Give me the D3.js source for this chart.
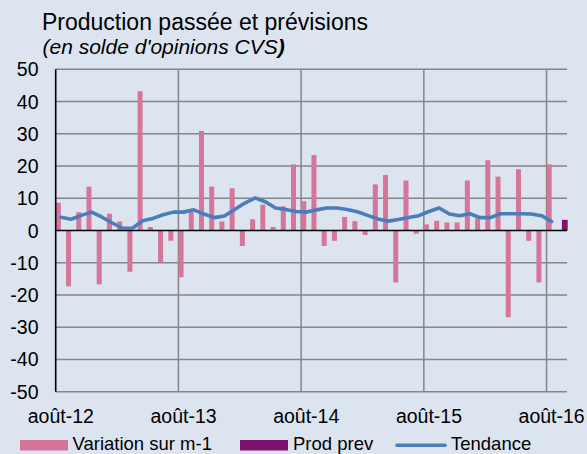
<!DOCTYPE html>
<html><head><meta charset="utf-8">
<script src="https://cdn.jsdelivr.net/npm/d3@7"></script>
<style>
html,body{margin:0;padding:0;background:#dce4f0;}
svg{display:block;font-family:"Liberation Sans",Arial,sans-serif;}
</style></head>
<body>
<svg id="chart" width="587" height="454"></svg>
<script>
const months = ["août-12","sept-12","oct-12","nov-12","déc-12","janv-13","févr-13","mars-13","avr-13","mai-13","juin-13","juil-13",
"août-13","sept-13","oct-13","nov-13","déc-13","janv-14","févr-14","mars-14","avr-14","mai-14","juin-14","juil-14",
"août-14","sept-14","oct-14","nov-14","déc-14","janv-15","févr-15","mars-15","avr-15","mai-15","juin-15","juil-15",
"août-15","sept-15","oct-15","nov-15","déc-15","janv-16","févr-16","mars-16","avr-16","mai-16","juin-16","juil-16",
"août-16","sept-16"];
const variation = [8.6,-17.3,5.7,13.6,-16.7,5.2,2.8,-12.8,43.2,1.1,-9.9,-3.2,-14.5,5.7,30.9,13.6,2.8,13.1,-4.8,3.5,8.0,1.1,7.5,20.5,9.1,23.4,-4.8,-3.2,4.2,2.9,-1.4,14.3,17.2,-16.1,15.5,-1.0,1.9,3.0,2.5,2.5,15.5,3.8,21.8,16.7,-26.9,19.0,-3.2,-16.1,20.5,null];
const prodPrev = [null,null,null,null,null,null,null,null,null,null,null,null,null,null,null,null,null,null,null,null,null,null,null,null,null,null,null,null,null,null,null,null,null,null,null,null,null,null,null,null,null,null,null,null,null,null,null,null,null,3.3];
const tendance = [4.1,3.5,4.7,5.7,4.2,2.4,0.7,0.7,3.0,3.75,4.9,5.7,5.7,6.4,5.1,4.0,4.5,6.5,8.5,10.1,8.9,7.0,6.5,5.9,5.7,6.4,7.0,7.0,6.5,5.8,4.7,3.6,2.9,3.4,4.0,4.6,5.9,7.0,5.1,4.6,5.2,4.0,4.0,5.2,5.2,5.2,5.1,4.6,2.8];
const yTicks = [-50,-40,-30,-20,-10,0,10,20,30,40,50];
const xLabelMonths = ["août-12","août-13","août-14","août-15","août-16"];
const title = "Production passée et prévisions";
const subtitle = "(en solde d'opinions CVS";
const legendNames = ["Variation sur m-1","Prod prev","Tendance"];

const C = {bg:"#dce4f0", pink:"#d6759a", purple:"#7d1270", line:"#4a7ebb", grid:"#868686"};
const svg = d3.select("#chart");
svg.append("rect").attr("width",587).attr("height",454).attr("fill",C.bg);

const x = d3.scaleBand().domain(months).range([55.7,567]).padding(0);
const y = d3.scaleLinear().domain([-50,50]).range([391.7,69.3]);
const bw = x.bandwidth();
const barW = bw*0.49;

// title
svg.append("text").attr("x",42).attr("y",29.5).attr("font-size",23).attr("fill","#000").text(title);
const st = svg.append("text").attr("x",42.5).attr("y",54).attr("font-size",21).attr("font-style","italic").attr("fill","#000");
st.append("tspan").text(subtitle);
st.append("tspan").attr("font-weight","bold").text(")");

// horizontal gridlines
svg.append("g").selectAll("line").data(yTicks.filter(d=>d!==0)).join("line")
  .attr("x1",55.7).attr("x2",567).attr("y1",d=>y(d)).attr("y2",d=>y(d))
  .attr("stroke",C.grid).attr("stroke-width",1.5);
// vertical gridlines
svg.append("g").selectAll("line").data(xLabelMonths.slice(1)).join("line")
  .attr("x1",d=>x(d)).attr("x2",d=>x(d)).attr("y1",y(50)).attr("y2",y(-50))
  .attr("stroke",C.grid).attr("stroke-width",1.5);

// bars
svg.append("g").selectAll("rect").data(months.map((m,i)=>({m,v:variation[i]})).filter(d=>d.v!=null)).join("rect")
  .attr("x",d=>x(d.m)+bw/2-barW).attr("width",barW)
  .attr("y",d=>y(Math.max(0,d.v))).attr("height",d=>Math.abs(y(d.v)-y(0)))
  .attr("fill",C.pink);
svg.append("g").selectAll("rect").data(months.map((m,i)=>({m,v:prodPrev[i]})).filter(d=>d.v!=null)).join("rect")
  .attr("x",d=>x(d.m)+bw/2).attr("width",barW+0.8)
  .attr("y",d=>y(Math.max(0,d.v))).attr("height",d=>Math.abs(y(d.v)-y(0)))
  .attr("fill",C.purple);

// zero line & left axis
svg.append("line").attr("x1",55.7).attr("x2",567).attr("y1",y(0)).attr("y2",y(0)).attr("stroke","#000").attr("stroke-width",1.6);
svg.append("line").attr("x1",55.7).attr("x2",55.7).attr("y1",y(50)).attr("y2",y(-50)).attr("stroke","#000").attr("stroke-width",1.6);

// trend line
const lineGen = d3.line().x((d,i)=>x(months[i])+bw/2).y(d=>y(d)).curve(d3.curveLinear);
svg.append("path").datum(tendance).attr("d",lineGen).attr("fill","none")
  .attr("stroke",C.line).attr("stroke-width",3.6).attr("stroke-linejoin","round").attr("stroke-linecap","round");

// y tick labels
svg.append("g").selectAll("text").data(yTicks).join("text")
  .attr("x",38.5).attr("y",d=>y(d)).attr("dy","0.36em").attr("text-anchor","end")
  .attr("font-size",19.5).attr("fill","#000").text(d=>d);
// x tick labels
svg.append("g").selectAll("text").data(xLabelMonths).join("text")
  .attr("x",d=>x(d)+bw/2).attr("y",423).attr("text-anchor","middle")
  .attr("font-size",19.5).attr("fill","#000").text(d=>d);

// legend
const lg = svg.append("g");
const lfs = 18.5, lby = 449.5;
lg.append("rect").attr("x",20).attr("y",440).attr("width",48).attr("height",10.5).attr("fill",C.pink);
lg.append("text").attr("x",72.5).attr("y",lby).attr("font-size",lfs).text(legendNames[0]);
lg.append("rect").attr("x",240).attr("y",440).attr("width",48).attr("height",10.5).attr("fill",C.purple);
lg.append("text").attr("x",293).attr("y",lby).attr("font-size",lfs).text(legendNames[1]);
lg.append("line").attr("x1",397).attr("x2",445).attr("y1",445.3).attr("y2",445.3).attr("stroke",C.line).attr("stroke-width",3.6).attr("stroke-linecap","round");
lg.append("text").attr("x",451).attr("y",lby).attr("font-size",lfs).text(legendNames[2]);
</script>
</body></html>
